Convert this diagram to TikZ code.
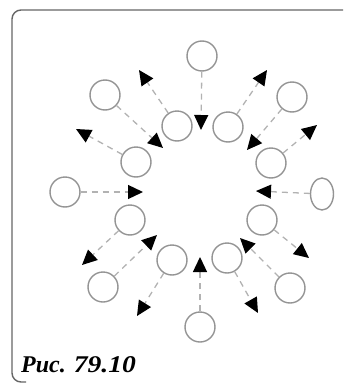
\documentclass[tikz,border=0pt]{standalone}
\usepackage{fontspec}
\setmainfont{Liberation Serif}
\usetikzlibrary{arrows.meta,shapes.geometric}
\begin{document}
\begin{tikzpicture}[x=1pt,y=-1pt,
  ring/.style={circle,draw=black!42,line width=1.4pt,minimum size=30pt,inner sep=0pt},
  ringe/.style={ellipse,draw=black!42,line width=1.4pt,minimum width=23pt,minimum height=32pt,inner sep=0pt},
  flow/.style={draw=black!30,line width=1.3pt,dash pattern=on 6pt off 5pt,
    -{Triangle[length=15pt,width=14pt,color=black]}},
  frame/.style={draw=black!60,line width=1.4pt,rounded corners=9pt},
  caption/.style={anchor=base west,inner sep=0pt,font=\fontsize{24}{24}\selectfont\bfseries\itshape}]
\useasboundingbox (0,0) rectangle (343,383);
\draw[frame] (343,10) -- (12,10) -- (12,382) -- (26,382);
% outer ring
\node[ring]  (ot)  at (202,56)  {};
\node[ring]  (otl) at (105,95)  {};
\node[ring]  (otr) at (292,97)  {};
\node[ring]  (ol)  at (65,192)  {};
\node[ringe] (or)  at (322,194) {};
\node[ring]  (obl) at (103,287) {};
\node[ring]  (obr) at (290,288) {};
\node[ring]  (ob)  at (200,327) {};
% inner ring
\node[ring] (i1) at (177,126) {};
\node[ring] (i2) at (228,127) {};
\node[ring] (i3) at (136,162) {};
\node[ring] (i4) at (271,163) {};
\node[ring] (i5) at (130,220) {};
\node[ring] (i6) at (262,220) {};
\node[ring] (i7) at (172,260) {};
\node[ring] (i8) at (227,258) {};
% outward tips
\coordinate (t1) at (139,70);
\coordinate (t2) at (267,70);
\coordinate (t3) at (76,129);
\coordinate (t4) at (317,125);
\coordinate (t5) at (82,265);
\coordinate (t6) at (309,258);
\coordinate (t7) at (137,316);
\coordinate (t8) at (258,313);
% inward tips
\coordinate (ut)  at (201,130);
\coordinate (utl) at (163,148);
\coordinate (utr) at (247,150);
\coordinate (ul)  at (143,192);
\coordinate (ur)  at (256,191);
\coordinate (ubl) at (157,235);
\coordinate (ubr) at (240,238);
\coordinate (ub)  at (200,257);
% arrows
\foreach \a/\b in {i1/t1,i2/t2,i3/t3,i4/t4,i5/t5,i6/t6,i7/t7,i8/t8,
                   ot/ut,otl/utl,otr/utr,ol/ul,or/ur,obl/ubl,obr/ubr,ob/ub}
  \draw[flow] (\a) -- (\b);
\node[caption] (cap) at (21,372) {Рис.\hspace{8pt}\scalebox{1.15}[1]{79.10}};
\end{tikzpicture}
\end{document}
